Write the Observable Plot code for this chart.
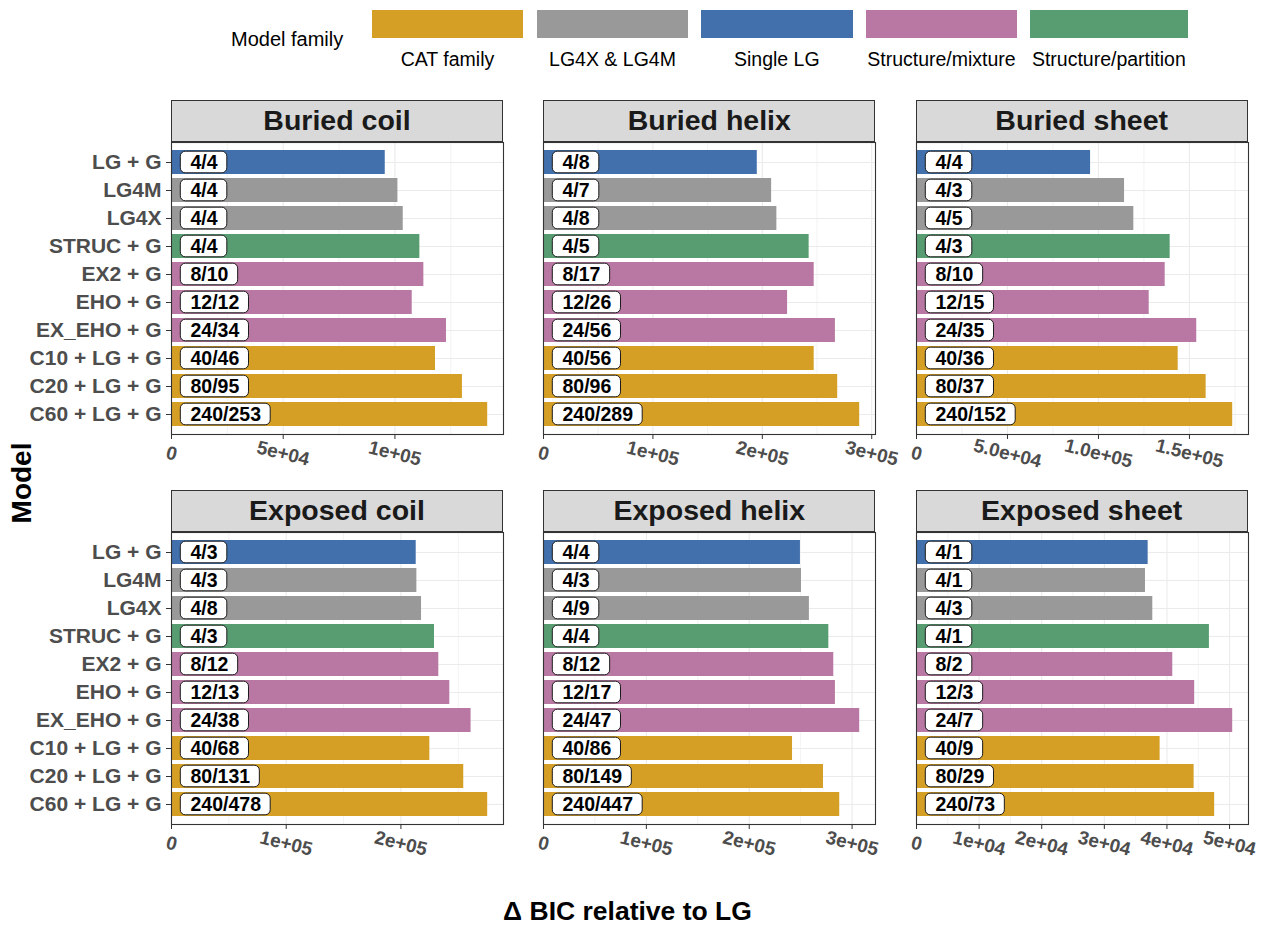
<!DOCTYPE html>
<html><head><meta charset="utf-8">
<script src="https://cdn.jsdelivr.net/npm/d3@7"></script>
<script src="https://cdn.jsdelivr.net/npm/@observablehq/plot@0.6"></script>
<style>
body{margin:0;background:#fff;font-family:"Liberation Sans",Arial,sans-serif;}
#root{position:relative;width:1266px;height:925px;overflow:hidden;background:#fff}
.abs{position:absolute}
svg{overflow:visible}
.strip{position:absolute;box-sizing:border-box;background:#d9d9d9;border:1.1px solid #333;display:flex;align-items:center;justify-content:center;font-weight:bold;font-size:28.5px;color:#1a1a1a}
g[aria-label="y-axis tick label"]{font-weight:bold;font-size:21px;fill:#4d4d4d}
.sw{position:absolute;top:10px;height:28.3px}
.swl{position:absolute;top:48px;font-size:19.5px;color:#000;text-align:center;white-space:nowrap}
</style></head><body><div id="root"></div>
<script>
// ---------- data ----------
const models = ["LG + G","LG4M","LG4X","STRUC + G","EX2 + G","EHO + G","EX_EHO + G","C10 + LG + G","C20 + LG + G","C60 + LG + G"];
const modelFamilies = ["Single LG","LG4X & LG4M","LG4X & LG4M","Structure/partition","Structure/mixture","Structure/mixture","Structure/mixture","CAT family","CAT family","CAT family"];
const familyNames = ["CAT family","LG4X & LG4M","Single LG","Structure/mixture","Structure/partition"];
const familyColors = ["#D59F25","#999999","#4270AC","#B878A3","#589D72"];
const panelTitles = ["Buried coil","Buried helix","Buried sheet","Exposed coil","Exposed helix","Exposed sheet"];

const bicBuriedCoil    = [95670, 101340, 103720, 111160, 112950, 107740, 123070, 118150, 130210, 141520];
const bicBuriedHelix   = [195400, 208500, 213300, 242800, 247400, 223100, 266800, 247400, 268900, 289000];
const bicBuriedSheet   = [95660, 114330, 119430, 139400, 136660, 127880, 154010, 143800, 159170, 173760];
const bicExposedCoil   = [213330, 213910, 217970, 229270, 233040, 242610, 261160, 225220, 254780, 275650];
const bicExposedHelix  = [249800, 250800, 258500, 277400, 282200, 283800, 307400, 242100, 272200, 288000];
const bicExposedSheet  = [37000, 36570, 37740, 46780, 40930, 44430, 50500, 38910, 44340, 47620];

const parBuriedCoil   = ["4/4","4/4","4/4","4/4","8/10","12/12","24/34","40/46","80/95","240/253"];
const parBuriedHelix  = ["4/8","4/7","4/8","4/5","8/17","12/26","24/56","40/56","80/96","240/289"];
const parBuriedSheet  = ["4/4","4/3","4/5","4/3","8/10","12/15","24/35","40/36","80/37","240/152"];
const parExposedCoil  = ["4/3","4/3","4/8","4/3","8/12","12/13","24/38","40/68","80/131","240/478"];
const parExposedHelix = ["4/4","4/3","4/9","4/4","8/12","12/17","24/47","40/86","80/149","240/447"];
const parExposedSheet = ["4/1","4/1","4/3","4/1","8/2","12/3","24/7","40/9","80/29","240/73"];

const ticksBuriedCoil = [0, 5e4, 1e5];           const tickLabBuriedCoil = ["0","5e+04","1e+05"];
const ticksBuriedHelix = [0, 1e5, 2e5, 3e5];     const tickLabBuriedHelix = ["0","1e+05","2e+05","3e+05"];
const ticksBuriedSheet = [0, 5e4, 1e5, 1.5e5];   const tickLabBuriedSheet = ["0","5.0e+04","1.0e+05","1.5e+05"];
const ticksExposedCoil = [0, 1e5, 2e5];          const tickLabExposedCoil = ["0","1e+05","2e+05"];
const ticksExposedHelix = [0, 1e5, 2e5, 3e5];    const tickLabExposedHelix = ["0","1e+05","2e+05","3e+05"];
const ticksExposedSheet = [0, 1e4, 2e4, 3e4, 4e4, 5e4]; const tickLabExposedSheet = ["0","1e+04","2e+04","3e+04","4e+04","5e+04"];

const panelValues = [bicBuriedCoil, bicBuriedHelix, bicBuriedSheet, bicExposedCoil, bicExposedHelix, bicExposedSheet];
const panelLabels = [parBuriedCoil, parBuriedHelix, parBuriedSheet, parExposedCoil, parExposedHelix, parExposedSheet];
const panelTicks = [ticksBuriedCoil, ticksBuriedHelix, ticksBuriedSheet, ticksExposedCoil, ticksExposedHelix, ticksExposedSheet];
const panelTickLabels = [tickLabBuriedCoil, tickLabBuriedHelix, tickLabBuriedSheet, tickLabExposedCoil, tickLabExposedHelix, tickLabExposedSheet];

// ---------- layout ----------
const FONT = '"Liberation Sans", Arial, sans-serif';
const ctx = document.createElement("canvas").getContext("2d");
ctx.font = `bold 19.5px ${FONT}`;
const textW = s => ctx.measureText(s).width;

const root = document.getElementById("root");
const colLeft = [171, 543.3, 915.7];
const stripTop = [99.5, 489.5];
const stripH = 42;
const PW = 332, PH = 292;

function addDiv(cls, css, html) {
  const d = document.createElement("div");
  d.className = cls;
  Object.assign(d.style, css);
  if (html != null) d.innerHTML = html;
  root.appendChild(d);
  return d;
}

panelTitles.forEach((title, p) => {
  const col = p % 3, row = Math.floor(p / 3);
  const vals = panelValues[p];
  const xmax = d3.max(vals) * 1.05;
  const k = PW / xmax;
  const data = models.map((m, i) => ({
    model: m, family: modelFamilies[i], value: vals[i], label: panelLabels[p][i],
    boxLo: 9.3 / k, boxHi: (9.3 + textW(panelLabels[p][i]) + 19.4) / k
  }));
  const ticks = panelTicks[p];
  const step = ticks[1] - ticks[0];
  const minor = d3.range(step / 2, xmax, step);
  const mL = col === 0 ? 171 : 20, mR = 40, mT = 2, mB = 50;
  const chart = Plot.plot({
    width: mL + PW + mR, height: mT + PH + mB,
    marginLeft: mL, marginRight: mR, marginTop: mT, marginBottom: mB,
    style: {fontFamily: FONT, background: "transparent", overflow: "visible", maxWidth: "none"},
    x: {domain: [0, xmax], axis: null},
    y: {domain: models, paddingInner: 0.15, paddingOuter: 0.175, axis: null},
    color: {domain: familyNames, range: familyColors},
    marks: [
      Plot.gridX({ticks: minor, stroke: "#ebebeb", strokeOpacity: 1, strokeWidth: 0.6}),
      Plot.gridX({ticks: ticks, stroke: "#ebebeb", strokeOpacity: 1, strokeWidth: 1.1}),
      Plot.gridY({stroke: "#ebebeb", strokeOpacity: 1, strokeWidth: 1.1}),
      Plot.barX(data, {x: "value", y: "model", fill: "family"}),
      Plot.barX(data, {x1: "boxLo", x2: "boxHi", y: "model", fill: "white", stroke: "#1a1a1a", strokeWidth: 1, rx: 5, insetTop: 1.2, insetBottom: 1.2}),
      Plot.text(data, {y: "model", text: "label", frameAnchor: "left", dx: 19, textAnchor: "start", fontSize: 19.5, fontWeight: "bold", fill: "black"}),
      Plot.axisX({ticks: ticks, tickSize: 5, tickFormat: () => "", label: null, stroke: "#333"}),
      Plot.text(ticks, {x: d => d, text: (d, i) => panelTickLabels[p][i], frameAnchor: "bottom", dy: 19, rotate: 14,
        textAnchor: "middle", lineAnchor: "middle", fontSize: 19, fontWeight: "bold", fill: "#4d4d4d"}),
      col === 0 ? Plot.axisY({tickSize: 5, tickPadding: 5, label: null, stroke: "#333", fontSize: 21}) : null,
      Plot.frame({stroke: "#333", strokeWidth: 1.1})
    ]
  });
  const holder = addDiv("abs", {left: (colLeft[col] - mL) + "px", top: (stripTop[row] + stripH - mT) + "px", width: (mL + PW + mR) + "px"});
  holder.appendChild(chart);
  addDiv("strip", {left: colLeft[col] + "px", top: stripTop[row] + "px", width: PW + "px", height: stripH + "px"}, title);
});

// ---------- legend ----------
const swX = [371.7, 536.7, 701, 865.7, 1030];
const swW = [151.6, 151.6, 151.6, 151.6, 157.7];
addDiv("abs", {left: "231px", top: "28px", fontSize: "20px", color: "#000", whiteSpace: "nowrap"}, "Model family");
familyNames.forEach((f, i) => {
  addDiv("sw", {left: swX[i] + "px", width: swW[i] + "px", background: familyColors[i]});
  addDiv("swl", {left: (swX[i] - 20) + "px", width: (swW[i] + 40) + "px"}, f);
});

// ---------- axis titles ----------
addDiv("abs", {left: "22px", top: "483px", transform: "translate(-50%,-50%) rotate(-90deg)", fontSize: "28px", fontWeight: "bold", color: "#000", whiteSpace: "nowrap"}, "Model");
addDiv("abs", {left: "627.5px", top: "899px", transform: "translateX(-50%)", fontSize: "26.5px", lineHeight: "24px", fontWeight: "bold", color: "#000", whiteSpace: "nowrap"}, "Δ BIC relative to LG");
</script></body></html>
